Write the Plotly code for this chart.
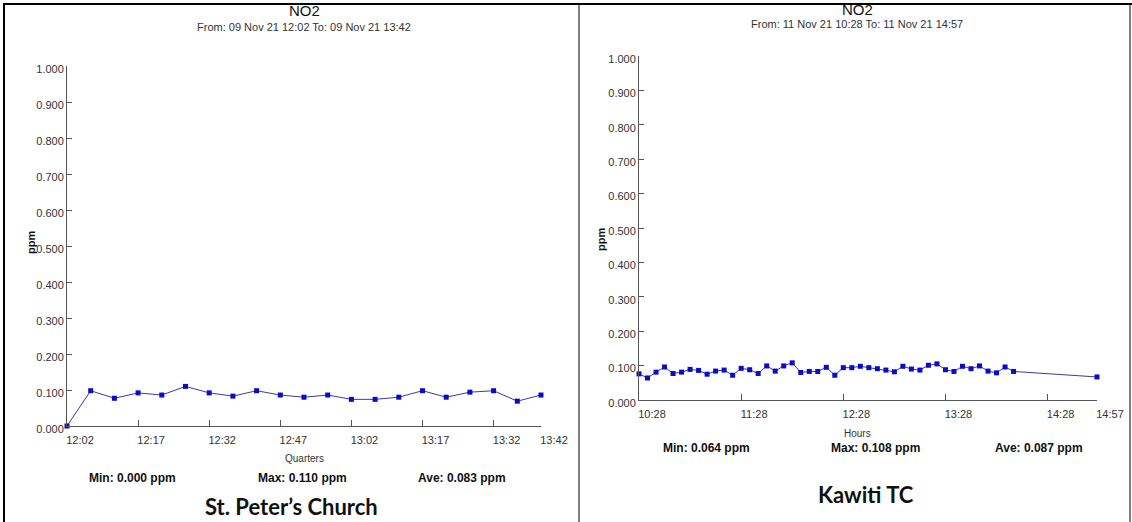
import plotly.graph_objects as go

W, H = 1132, 522

# ---------------- data ----------------
left_times = ["12:02", "12:07", "12:12", "12:17", "12:22", "12:27", "12:32", "12:37", "12:42",
              "12:47", "12:52", "12:57", "13:02", "13:07", "13:12", "13:17", "13:22", "13:27",
              "13:32", "13:37", "13:42"]
left_values = [0.000, 0.098, 0.077, 0.092, 0.086, 0.110, 0.092, 0.083, 0.098, 0.086, 0.080,
               0.086, 0.074, 0.074, 0.080, 0.098, 0.080, 0.094, 0.098, 0.069, 0.086]
left_ticks = ["12:02", "12:17", "12:32", "12:47", "13:02", "13:17", "13:32", "13:42"]

right_times = ["10:28", "10:33", "10:38", "10:43", "10:48", "10:53", "10:58", "11:03", "11:08",
               "11:13", "11:18", "11:23", "11:28", "11:33", "11:38", "11:43", "11:48", "11:53",
               "11:58", "12:03", "12:08", "12:13", "12:18", "12:23", "12:28", "12:33", "12:38",
               "12:43", "12:48", "12:53", "12:58", "13:03", "13:08", "13:13", "13:18", "13:23",
               "13:28", "13:33", "13:38", "13:43", "13:48", "13:53", "13:58", "14:03", "14:08",
               "14:57"]
right_values = [0.076, 0.064, 0.081, 0.096, 0.077, 0.081, 0.089, 0.086, 0.075, 0.084, 0.087,
                0.072, 0.092, 0.088, 0.077, 0.099, 0.084, 0.099, 0.108, 0.080, 0.083, 0.083,
                0.095, 0.072, 0.094, 0.094, 0.098, 0.094, 0.091, 0.087, 0.082, 0.098, 0.090,
                0.087, 0.101, 0.105, 0.088, 0.083, 0.098, 0.091, 0.099, 0.084, 0.079, 0.096,
                0.083, 0.067]
right_ticks = ["10:28", "11:28", "12:28", "13:28", "14:28", "14:57"]

y_ticks = [0.0, 0.1, 0.2, 0.3, 0.4, 0.5, 0.6, 0.7, 0.8, 0.9, 1.0]

left_date = "2021-11-09 "
right_date = "2021-11-11 "


def px(x):
    return x / W


def py(y):
    return 1 - y / H


FONT = "Liberation Sans, Arial, sans-serif"
LINE_C = "#3a3aa8"
MARK_C = "#0a0ac8"
AXIS_C = "#555555"

fig = go.Figure()

fig.add_trace(go.Scatter(
    x=[left_date + t for t in left_times], y=left_values, mode="lines+markers",
    line=dict(color=LINE_C, width=1), marker=dict(symbol="square", size=5, color=MARK_C),
    cliponaxis=False, xaxis="x", yaxis="y", showlegend=False))

fig.add_trace(go.Scatter(
    x=[right_date + t for t in right_times], y=right_values, mode="lines+markers",
    line=dict(color=LINE_C, width=1), marker=dict(symbol="square", size=5, color=MARK_C),
    cliponaxis=False, xaxis="x2", yaxis="y2", showlegend=False))

tickfont = dict(family=FONT, size=11, color="#333333")

common_x = dict(type="date", showgrid=False, zeroline=False, showline=True, linecolor=AXIS_C,
                linewidth=1, ticks="inside", ticklen=6, tickcolor=AXIS_C, tickfont=tickfont,
                ticklabelstandoff=4, ticklabelshift=13)
common_y = dict(range=[0, 1], showgrid=False, zeroline=False, showline=True, linecolor=AXIS_C,
                linewidth=1, ticks="inside", ticklen=5, tickcolor=AXIS_C, tickfont=tickfont,
                tickvals=y_ticks, ticktext=[f"{v:.3f}" for v in y_ticks], ticklabelshift=3)

fig.update_layout(
    width=W, height=H, margin=dict(l=0, r=0, t=0, b=0, autoexpand=False),
    paper_bgcolor="white", plot_bgcolor="white",
    xaxis=dict(common_x, domain=[px(67), px(541)], anchor="y",
               range=[left_date + left_times[0], left_date + left_times[-1]],
               tickvals=[left_date + t for t in left_ticks], ticktext=left_ticks),
    yaxis=dict(common_y, domain=[py(426), py(66)], anchor="x"),
    xaxis2=dict(common_x, domain=[px(639), px(1097)], anchor="y2",
                range=[right_date + right_times[0], right_date + right_times[-1]],
                tickvals=[right_date + t for t in right_ticks], ticktext=right_ticks),
    yaxis2=dict(common_y, domain=[py(400), py(56)], anchor="x2"),
)

anns = []


def txt(x, y, s, size, bold=False, family=FONT, color="#111111", angle=0):
    if bold:
        s = "<b>" + s + "</b>"
    anns.append(dict(x=px(x), y=py(y), xref="paper", yref="paper", text=s, showarrow=False,
                     xanchor="center", yanchor="middle", textangle=angle,
                     font=dict(family=family, size=size, color=color)))


# Left chart texts
txt(304, 11, "NO2", 15)
txt(304, 27, "From: 09 Nov 21 12:02 To: 09 Nov 21 13:42", 11, color="#333333")
txt(31, 243, "ppm", 11, bold=True, angle=-90)
txt(304, 458, "Quarters", 10, color="#333333")
txt(132, 478, "Min: 0.000 ppm", 12, bold=True)
txt(302, 478, "Max: 0.110 ppm", 12, bold=True)
txt(462, 478, "Ave: 0.083 ppm", 12, bold=True)
txt(291, 506, "St. Peter’s Church", 22, bold=True, family="Lato, Open Sans, sans-serif", color="#111111")

# Right chart texts
txt(857, 9, "NO2", 15)
txt(857, 24, "From: 11 Nov 21 10:28 To: 11 Nov 21 14:57", 11, color="#333333")
txt(601, 240, "ppm", 11, bold=True, angle=-90)
txt(857, 433, "Hours", 10, color="#333333")
txt(706, 448, "Min: 0.064 ppm", 12, bold=True)
txt(876, 448, "Max: 0.108 ppm", 12, bold=True)
txt(1039, 448, "Ave: 0.087 ppm", 12, bold=True)
txt(866, 494, "Kawiti TC", 22, bold=True, family="Lato, Open Sans, sans-serif", color="#111111")

fig.update_layout(annotations=anns)

# table borders
shapes = [
    dict(type="line", xref="paper", yref="paper", x0=px(3), x1=px(1132), y0=py(4), y1=py(4),
         line=dict(color="black", width=2)),
    dict(type="line", xref="paper", yref="paper", x0=px(4), x1=px(4), y0=py(4), y1=py(522),
         line=dict(color="black", width=2)),
    dict(type="line", xref="paper", yref="paper", x0=px(579), x1=px(579), y0=py(4), y1=py(522),
         line=dict(color="black", width=1)),
    dict(type="line", xref="paper", yref="paper", x0=px(1130), x1=px(1130), y0=py(4), y1=py(522),
         line=dict(color="black", width=1)),
]
fig.update_layout(shapes=shapes)

fig.write_html("out.html",
               config={"displayModeBar": False},
               post_script="document.body.style.margin='0';document.body.style.padding='0';"
                           "document.body.style.overflow='hidden';")
